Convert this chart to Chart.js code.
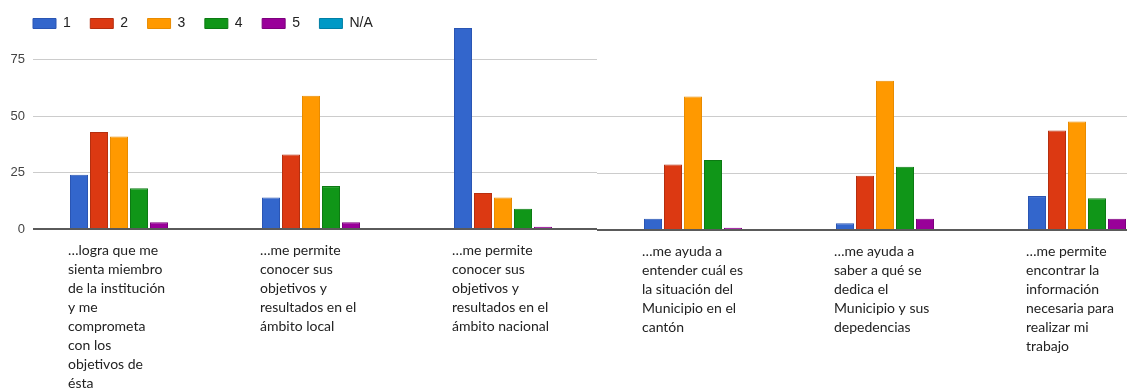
<!DOCTYPE html>
<html><head><meta charset="utf-8">
<script src="https://cdn.jsdelivr.net/npm/chart.js@4.4.1/dist/chart.umd.min.js"></script>
<style>
html,body{margin:0;padding:0;background:#fff;overflow:hidden;width:1127px;height:390px;}
#left{position:absolute;left:0;top:0;width:597px;height:390px;overflow:hidden;}
#right{position:absolute;left:597px;top:0;width:530px;height:390px;overflow:hidden;}
canvas{position:absolute;left:0;top:0;}
</style></head><body>
<div id="left"><canvas id="c1" width="609" height="390" style="width:609px;height:390px"></canvas></div>
<div id="right"><canvas id="c2" width="586" height="390" style="width:586px;height:390px"></canvas></div>
<script>
// ---- data ----
const categories = [
  ['…logra que me','sienta miembro','de la institución','y me','comprometa','con los','objetivos de','ésta'],
  ['…me permite','conocer sus','objetivos y','resultados en el','ámbito local'],
  ['…me permite','conocer sus','objetivos y','resultados en el','ámbito nacional'],
  ['…me ayuda a','entender cuál es','la situación del','Municipio en el','cantón'],
  ['…me ayuda a','saber a qué se','dedica el','Municipio y sus','depedencias'],
  ['…me permite','encontrar la','información','necesaria para','realizar mi','trabajo']
];
const seriesNames = ['1','2','3','4','5','N/A'];
const series1 = [24, 14, 89, 5, 3, 15];
const series2 = [43, 33, 16, 29, 24, 44];
const series3 = [41, 59, 14, 59, 66, 48];
const series4 = [18, 19, 9, 31, 28, 14];
const series5 = [3, 3, 1, 1, 5, 5];
const seriesNA = [0, 0, 0, 0, 0, 0];
const leftTicks = [0, 25, 50, 75];
const rightTicks = [0, 25, 50];

const fills = ['#3366cc','#dc3912','#ff9900','#109618','#990099','#0099c6'];
const borders = ['#2a55b3','#b52f0f','#e88b00','#0c7a13','#7d007d','#007fa5'];
const allSeries = [series1, series2, series3, series4, series5, seriesNA];

function makeDatasets(from, to) {
  return allSeries.map((s, i) => ({
    label: seriesNames[i],
    data: s.slice(from, to),
    backgroundColor: fills[i],
    borderColor: borders[i],
    borderWidth: 1,
    categoryPercentage: 0.625,
    barPercentage: 0.9,
    clip: false
  }));
}

const gridColor = ctx => (ctx.tick && ctx.tick.value === 0) ? '#5a5a5a' : '#cccccc';
const gridWidth = ctx => (ctx.tick && ctx.tick.value === 0) ? 2 : 1;

function xScale(height) {
  return {
    type: 'category',
    offset: true,
    grid: {display: false, drawTicks: false},
    border: {display: false},
    ticks: {
      autoSkip: false, maxRotation: 0, minRotation: 0,
      align: 'start', labelOffset: -61, padding: 12,
      color: '#222',
      font: {family: 'Lato', size: 14, lineHeight: 19/14}
    },
    afterFit: s => { s.height = height; s.paddingLeft = 0; s.paddingRight = 0; }
  };
}

// moves the legend row so its first swatch lines up with the plot's left edge
const legendShift = {
  id: 'legendShift',
  afterLayout(chart) {
    const l = chart.legend;
    if (l) { l.left += 13.5; l.right += 13.5; }
  }
};

function build() {
  new Chart(document.getElementById('c1'), {
    type: 'bar',
    data: {labels: categories.slice(0, 3), datasets: makeDatasets(0, 3)},
    plugins: [legendShift],
    options: {
      responsive: false, animation: false,
      layout: {padding: {left: 0, top: -3, right: 0, bottom: 0}},
      plugins: {
        tooltip: {enabled: false},
        legend: {
          position: 'top', align: 'start',
          labels: {boxWidth: 23, boxHeight: 10, padding: 19.5, color: '#222',
                   font: {family: 'Liberation Sans', size: 14}}
        }
      },
      scales: {
        x: xScale(161),
        y: {
          min: 0, max: 83.5,
          grid: {drawTicks: false, color: gridColor, lineWidth: gridWidth},
          border: {display: false},
          ticks: {padding: 8, color: '#444', font: {family: 'Liberation Sans', size: 13}},
          afterBuildTicks: s => { s.ticks = leftTicks.map(v => ({value: v})); },
          afterFit: s => { s.width = 33; s.paddingTop = 0; s.paddingBottom = 0; }
        }
      }
    }
  });

  new Chart(document.getElementById('c2'), {
    type: 'bar',
    data: {labels: categories.slice(3, 6), datasets: makeDatasets(3, 6)},
    options: {
      responsive: false, animation: false,
      layout: {padding: {left: 0, top: 40, right: 0, bottom: 0}},
      plugins: {tooltip: {enabled: false}, legend: {display: false}},
      scales: {
        x: xScale(160),
        y: {
          min: 0, max: 84,
          grid: {drawTicks: true, tickLength: 10, color: gridColor, lineWidth: gridWidth},
          border: {display: false},
          ticks: {display: false},
          afterBuildTicks: s => { s.ticks = rightTicks.map(v => ({value: v})); },
          afterFit: s => { s.width = 10; s.paddingTop = 0; s.paddingBottom = 0; }
        }
      }
    }
  });
}

if (document.fonts && document.fonts.load) {
  Promise.all([
    document.fonts.load('14px Lato'),
    document.fonts.load('14px "Liberation Sans"')
  ]).then(build, build);
} else { build(); }
</script>
</body></html>
